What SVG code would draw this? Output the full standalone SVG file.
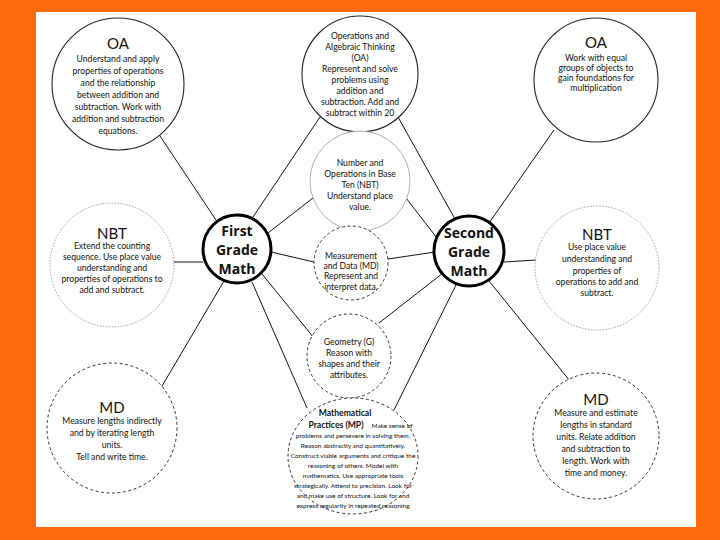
<svg xmlns="http://www.w3.org/2000/svg" width="720" height="540" viewBox="0 0 720 540">
<style>
.bg{fill:#FF6A0D}
.solid{fill:#fff;stroke:#222;stroke-width:1.1}
.light{fill:#fff;stroke:#888;stroke-width:0.8;stroke-dasharray:1.5 1.5}
.thin{fill:#fff;stroke:#999;stroke-width:0.8}
.dash{fill:#fff;stroke:#333;stroke-width:1;stroke-dasharray:3 2.5}
.hub{fill:#fff;stroke:#000;stroke-width:3}
.t{font-family:Lato,"Liberation Sans",sans-serif;font-size:8.6px;fill:#111;text-anchor:middle}
.s{font-family:Lato,"Liberation Sans",sans-serif;font-size:6.5px;fill:#111;text-anchor:middle}
.h{font-family:Lato,"Liberation Sans",sans-serif;font-size:15px;fill:#111;text-anchor:middle}
.b{font-family:Lato,"Liberation Sans",sans-serif;font-size:8.6px;font-weight:bold;fill:#111;text-anchor:middle}
.big{font-family:"Open Sans","Liberation Sans",sans-serif;font-size:14px;font-weight:bold;fill:#111;text-anchor:middle}
#connectors line{stroke:#111;stroke-width:1}
</style>
<rect class="bg" x="0" y="0" width="720" height="540"/>
<rect x="36" y="12" width="660" height="515" fill="#fff"/>
<g id="connectors">
<line x1="156" y1="130" x2="216" y2="220"/>
<line x1="320" y1="117" x2="253" y2="217"/>
<line x1="313" y1="198" x2="268" y2="233"/>
<line x1="314" y1="262" x2="271" y2="252"/>
<line x1="314" y1="338" x2="262" y2="274"/>
<line x1="307" y1="408" x2="252" y2="282"/>
<line x1="174" y1="262" x2="203" y2="262"/>
<line x1="152" y1="403" x2="224" y2="281"/>
<line x1="554" y1="130" x2="489" y2="223"/>
<line x1="398" y1="117" x2="455" y2="219"/>
<line x1="406" y1="198" x2="437" y2="238"/>
<line x1="388" y1="259" x2="435" y2="252"/>
<line x1="379" y1="323" x2="443" y2="273"/>
<line x1="394" y1="410" x2="456" y2="285"/>
<line x1="504" y1="262" x2="536" y2="260"/>
<line x1="574" y1="386" x2="489" y2="281"/>
</g>
<g id="oa-left">
<circle class="solid" cx="118" cy="84" r="66"/>
<text class="h" x="118" y="49">OA</text>
<text class="t" x="118" y="62">Understand and apply</text>
<text class="t" x="118" y="74">properties of operations</text>
<text class="t" x="118" y="86">and the relationship</text>
<text class="t" x="118" y="98">between addition and</text>
<text class="t" x="118" y="110">subtraction.  Work with</text>
<text class="t" x="118" y="122">addition and subtraction</text>
<text class="t" x="118" y="134">equations.</text>
</g>
<g id="oa-middle">
<circle class="solid" cx="360" cy="74" r="58"/>
<text class="t" x="360" y="39">Operations and</text>
<text class="t" x="360" y="50">Algebraic Thinking</text>
<text class="t" x="360" y="61">(OA)</text>
<text class="t" x="360" y="72">Represent and solve</text>
<text class="t" x="360" y="83">problems using</text>
<text class="t" x="360" y="94">addition and</text>
<text class="t" x="360" y="105">subtraction. Add and</text>
<text class="t" x="360" y="116">subtract within 20</text>
</g>
<g id="oa-right">
<circle class="solid" cx="596" cy="80" r="62"/>
<text class="h" x="596" y="48">OA</text>
<text class="t" x="596" y="61">Work with equal</text>
<text class="t" x="596" y="71">groups of objects to</text>
<text class="t" x="596" y="81">gain foundations for</text>
<text class="t" x="596" y="91">multiplication</text>
</g>
<g id="nbt-middle">
<circle class="thin" cx="360" cy="181" r="50"/>
<text class="t" x="360" y="166">Number and</text>
<text class="t" x="360" y="177">Operations in Base</text>
<text class="t" x="360" y="188">Ten (NBT)</text>
<text class="t" x="360" y="199">Understand place</text>
<text class="t" x="360" y="210">value.</text>
</g>
<g id="md-middle">
<circle class="dash" cx="351" cy="263" r="37"/>
<text class="t" x="351" y="259">Measurement</text>
<text class="t" x="351" y="269">and Data (MD)</text>
<text class="t" x="351" y="279">Represent and</text>
<text class="t" x="351" y="290">interpret data.</text>
</g>
<g id="geometry">
<circle class="dash" cx="349" cy="356" r="42"/>
<text class="t" x="349" y="345">Geometry (G)</text>
<text class="t" x="349" y="356">Reason with</text>
<text class="t" x="349" y="367">shapes and their</text>
<text class="t" x="349" y="378">attributes.</text>
</g>
<g id="mp">
<ellipse class="dash" cx="353" cy="456" rx="65" ry="58"/>
<text class="b" x="345" y="416">Mathematical</text>
<text class="b" x="336" y="428">Practices (MP)</text>
<text class="s" x="392" y="428">Make sense of</text>
<text class="s" x="353" y="438">problems and persevere in solving them.</text>
<text class="s" x="353" y="448">Reason abstractly and quantitatively.</text>
<text class="s" x="353" y="458">Construct viable arguments and critique the</text>
<text class="s" x="353" y="468">reasoning of others.  Model with</text>
<text class="s" x="353" y="478">mathematics.  Use appropriate tools</text>
<text class="s" x="353" y="488">strategically.  Attend to precision.  Look for</text>
<text class="s" x="353" y="498">and make use of structure.  Look for and</text>
<text class="s" x="353" y="508">express regularity in repeated reasoning</text>
</g>
<g id="first-grade">
<circle class="hub" cx="237" cy="249" r="34"/>
<text class="big" x="237" y="236">First</text>
<text class="big" x="237" y="255">Grade</text>
<text class="big" x="237" y="274">Math</text>
</g>
<g id="second-grade">
<circle class="hub" cx="469" cy="251" r="35"/>
<text class="big" x="469" y="238">Second</text>
<text class="big" x="469" y="257">Grade</text>
<text class="big" x="469" y="276">Math</text>
</g>
<g id="nbt-left">
<circle class="light" cx="112" cy="265" r="62"/>
<text class="h" x="112" y="239">NBT</text>
<text class="t" x="112" y="249">Extend the counting</text>
<text class="t" x="112" y="260">sequence.  Use place value</text>
<text class="t" x="112" y="271">understanding and</text>
<text class="t" x="112" y="282">properties of operations to</text>
<text class="t" x="112" y="293">add and subtract.</text>
</g>
<g id="nbt-right">
<circle class="light" cx="597" cy="268" r="62"/>
<text class="h" x="597" y="240">NBT</text>
<text class="t" x="597" y="250">Use place value</text>
<text class="t" x="597" y="262">understanding and</text>
<text class="t" x="597" y="274">properties of</text>
<text class="t" x="597" y="285">operations to add and</text>
<text class="t" x="597" y="296">subtract.</text>
</g>
<g id="md-left">
<circle class="dash" cx="112" cy="428" r="65"/>
<text class="h" x="112" y="413">MD</text>
<text class="t" x="112" y="424">Measure lengths indirectly</text>
<text class="t" x="112" y="436">and by iterating length</text>
<text class="t" x="112" y="448">units.</text>
<text class="t" x="112" y="460">Tell and write time.</text>
</g>
<g id="md-right">
<circle class="dash" cx="596" cy="436" r="63"/>
<text class="h" x="596" y="405">MD</text>
<text class="t" x="596" y="416">Measure and estimate</text>
<text class="t" x="596" y="428">lengths in standard</text>
<text class="t" x="596" y="440">units. Relate addition</text>
<text class="t" x="596" y="452">and subtraction to</text>
<text class="t" x="596" y="464">length.  Work with</text>
<text class="t" x="596" y="476">time and money.</text>
</g>
</svg>
